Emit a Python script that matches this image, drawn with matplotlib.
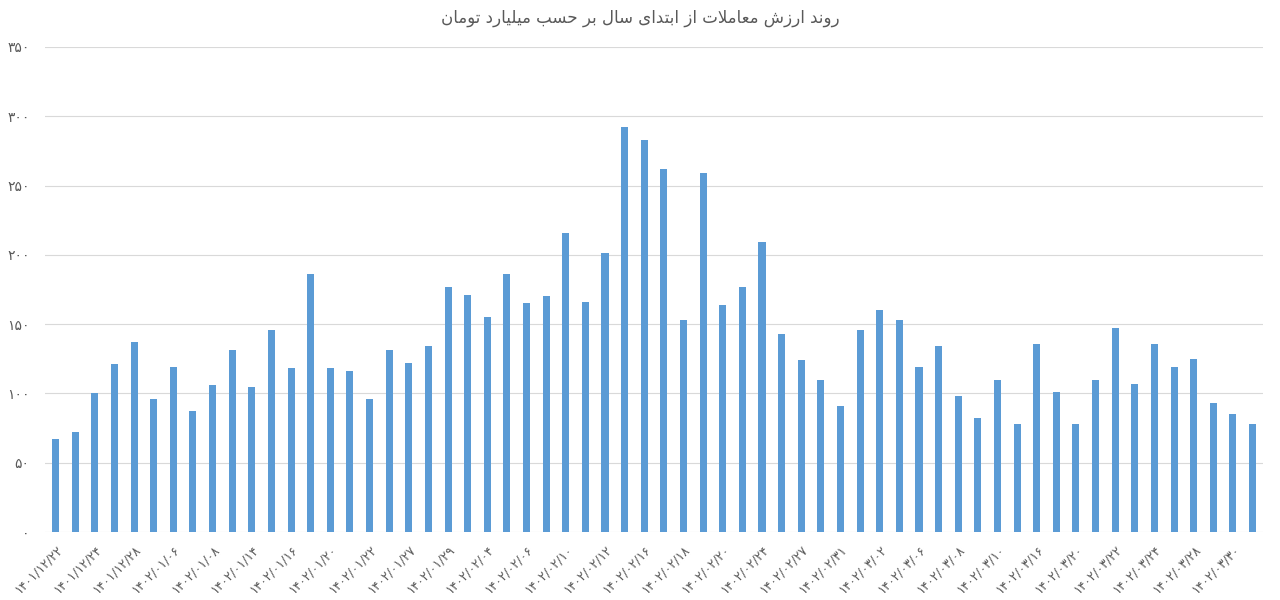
import numpy as np
import matplotlib
matplotlib.use("Agg")
import matplotlib.pyplot as plt

# %% data
title_text = "روند ارزش معاملات از ابتدای سال بر حسب میلیارد تومان"

dates = ["1401/12/22", "1401/12/24", "1401/12/28", "1402/01/06", "1402/01/08",
         "1402/01/14", "1402/01/16", "1402/01/20", "1402/01/22", "1402/01/27",
         "1402/01/29", "1402/02/04", "1402/02/06", "1402/02/10", "1402/02/12",
         "1402/02/16", "1402/02/18", "1402/02/20", "1402/02/24", "1402/02/27",
         "1402/02/31", "1402/03/02", "1402/03/06", "1402/03/08", "1402/03/10",
         "1402/03/16", "1402/03/20", "1402/03/22", "1402/03/24", "1402/03/28",
         "1402/03/30"]

values = [67, 72, 100, 121, 137, 96, 119, 87, 106, 131,
          105, 146, 118, 186, 118, 116, 96, 131, 122, 134,
          177, 171, 155, 186, 165, 170, 216, 166, 201, 292,
          283, 262, 153, 259, 164, 177, 209, 143, 124, 110,
          91, 146, 160, 153, 119, 134, 98, 82, 110, 78,
          136, 101, 78, 110, 147, 107, 136, 119, 125, 93,
          85, 78]

y_ticks = [0, 50, 100, 150, 200, 250, 300, 350]

# %% helpers for persian text (matplotlib has no arabic shaping)
fa_digits = str.maketrans("0123456789", "۰۱۲۳۴۵۶۷۸۹")

forms = {  # isolated, final, initial, medial
    "ا": ("\uFE8D", "\uFE8E", None, None),
    "ب": ("\uFE8F", "\uFE90", "\uFE91", "\uFE92"),
    "ت": ("\uFE95", "\uFE96", "\uFE97", "\uFE98"),
    "ح": ("\uFEA1", "\uFEA2", "\uFEA3", "\uFEA4"),
    "د": ("\uFEA9", "\uFEAA", None, None),
    "ر": ("\uFEAD", "\uFEAE", None, None),
    "ز": ("\uFEAF", "\uFEB0", None, None),
    "س": ("\uFEB1", "\uFEB2", "\uFEB3", "\uFEB4"),
    "ش": ("\uFEB5", "\uFEB6", "\uFEB7", "\uFEB8"),
    "ع": ("\uFEC9", "\uFECA", "\uFECB", "\uFECC"),
    "ل": ("\uFEDD", "\uFEDE", "\uFEDF", "\uFEE0"),
    "م": ("\uFEE1", "\uFEE2", "\uFEE3", "\uFEE4"),
    "ن": ("\uFEE5", "\uFEE6", "\uFEE7", "\uFEE8"),
    "و": ("\uFEED", "\uFEEE", None, None),
    "ی": ("\uFBFC", "\uFBFD", "\uFBFE", "\uFBFF"),
    "لا": ("\uFEFB", "\uFEFC", None, None),
}


def shape_fa(text):
    # split into units, lam+alef becomes one ligature
    units = []
    i = 0
    while i < len(text):
        if text[i:i + 2] == "لا":
            units.append("لا")
            i += 2
        else:
            units.append(text[i])
            i += 1
    out = []
    for k, u in enumerate(units):
        if u not in forms:
            out.append(u)
            continue
        prev = units[k - 1] if k > 0 else None
        nxt = units[k + 1] if k + 1 < len(units) else None
        join_prev = prev in forms and forms[prev][2] is not None
        join_next = forms[u][2] is not None and nxt in forms
        f = forms[u]
        if join_prev and join_next:
            out.append(f[3])
        elif join_prev:
            out.append(f[1])
        elif join_next:
            out.append(f[2])
        else:
            out.append(f[0])
    return "".join(out)[::-1]


# %% plot
plt.rcParams['font.family'] = ['DejaVu Sans']

fig = plt.figure(figsize=(12.8, 6.0), dpi=100)
ax = fig.add_axes([0.035, 0.1133, 0.952, 0.8084])

x = np.arange(len(values))
ax.bar(x, values, width=0.36, color="#5B9BD5", zorder=3)

ax.set_ylim(0, 350)
ax.set_xlim(-0.55, len(values) - 0.45)
ax.set_yticks(y_ticks)
ax.set_yticklabels([str(v).translate(fa_digits) for v in y_ticks],
                   fontsize=10, color="#595959")
ax.set_xticks(x[::2])
ax.set_xticklabels([d.translate(fa_digits) for d in dates], rotation=45,
                   ha="right", rotation_mode="anchor", fontsize=9,
                   color="#595959")
ax.tick_params(axis="both", length=0)
ax.tick_params(axis="y", pad=11)
ax.tick_params(axis="x", pad=8)

ax.grid(axis="y", color="#D9D9D9", linewidth=0.8, zorder=0)
for s in ax.spines.values():
    s.set_visible(False)

fig.text(0.5, 0.97, shape_fa(title_text), ha="center", va="center",
         fontsize=12, color="#595959")

fig.savefig("out.png", dpi=100)
